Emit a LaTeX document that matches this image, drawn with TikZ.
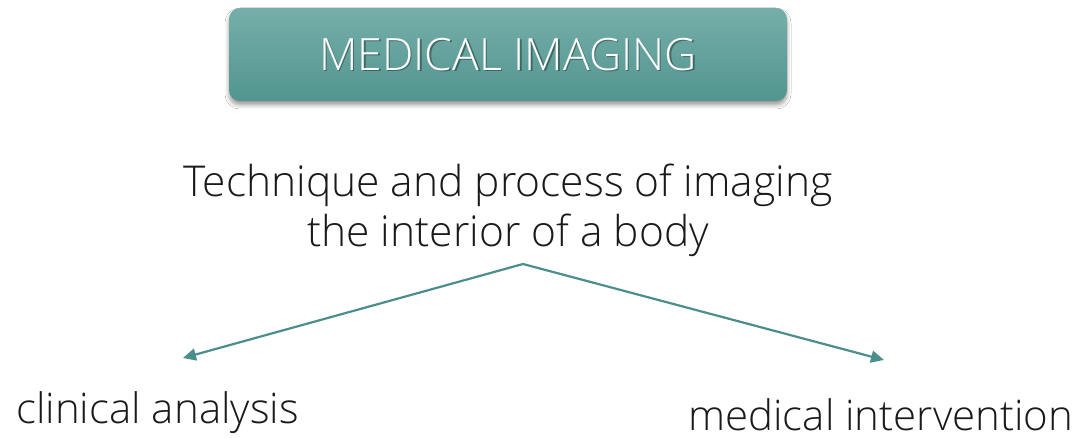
\documentclass[tikz,border=0pt]{standalone}
\usepackage{fontspec}
\setmainfont{Open Sans}[UprightFont=* Light]
\usetikzlibrary{shadows.blur,arrows.meta}
\definecolor{tealtop}{HTML}{76AFAA}
\definecolor{tealbot}{HTML}{52958F}
\definecolor{arrowteal}{HTML}{4A8F8B}
\definecolor{txt}{HTML}{1A1A1A}
\tikzset{
  titlebox/.style={rounded corners=11pt, top color=tealtop, bottom color=tealbot, draw=none,
    blur shadow={shadow xshift=0pt, shadow yshift=-4pt, shadow blur radius=4pt, shadow opacity=40},
    minimum width=558pt, minimum height=93pt, inner sep=0pt},
  titletext/.style={text=white, font=\fontsize{44.5}{48}\selectfont, inner sep=0pt},
  titleshadow/.style={text=black, opacity=0.35, font=\fontsize{44.5}{48}\selectfont, inner sep=0pt},
  desc/.style={text=txt, font=\fontsize{42.5}{50}\selectfont, align=center, inner sep=0pt},
  leaf/.style={text=txt, font=\fontsize{42}{46}\selectfont, inner sep=0pt, text depth=0pt},
  conn/.style={draw=arrowteal, line width=2.2pt, -{Triangle[length=13pt,width=12pt]}}
}
\begin{document}
\begin{tikzpicture}[x=1pt,y=-1pt]
\useasboundingbox[fill=white] (0,0) rectangle (1086,438);
\node[titlebox] (title) at (508,54.5) {};
\node[titleshadow] (tshadow) at (509.5,56) {MEDICAL IMAGING};
\node[titletext] (ttext) at (508,54.5) {MEDICAL IMAGING};
\node[desc] (desc) at (508,210) {Technique and process of imaging\\the interior of a body};
\coordinate (apex) at (523,264);
\coordinate (lt) at (183,358);
\coordinate (rt) at (884,360);
\node[leaf, anchor=base west] (ca) at (16,423) {clinical analysis};
\node[leaf, anchor=base west] (mi) at (688,430) {medical intervention};
\draw[conn] (apex) -- (lt);
\draw[conn] (apex) -- (rt);
\end{tikzpicture}
\end{document}
